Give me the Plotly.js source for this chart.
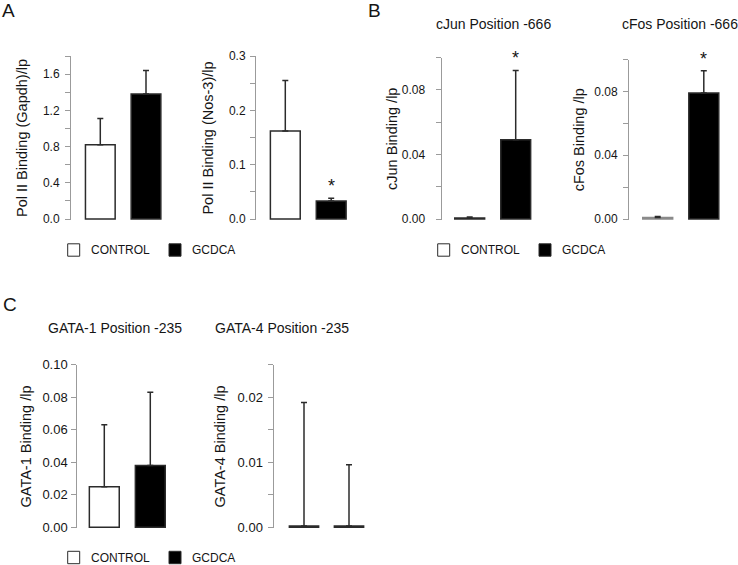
<!DOCTYPE html>
<html><head><meta charset="utf-8">
<script src="https://cdn.plot.ly/plotly-3.0.1.min.js"></script>
<style>html,body{margin:0;padding:0;background:#fff}#chart{width:738px;height:565px}</style>
</head><body><div id="chart"></div>
<script>
// ---- data ----
const categories = ['CONTROL', 'GCDCA'];

const gapdhMean = [0.82, 1.38];
const gapdhErr  = [0.29, 0.26];

const nos3Mean = [0.162, 0.033];
const nos3Err  = [0.093, 0.005];

const cJunMean = [0.0006, 0.049];
const cJunErr  = [0.0007, 0.043];

const cFosMean = [0.001, 0.079];
const cFosErr  = [0.0005, 0.014];

const gata1Mean = [0.025, 0.038];
const gata1Err  = [0.038, 0.045];

const gata4Mean = [0.0002, 0.0002];
const gata4Err  = [0.019, 0.0094];

const yTitles = [
  'Pol II Binding (Gapdh)/lp', 'Pol II Binding (Nos-3)/lp',
  'cJun Binding /lp', 'cFos Binding /lp',
  'GATA-1 Binding /lp', 'GATA-4 Binding /lp'
];
const panelTitles = ['', '', 'cJun Position -666', 'cFos Position -666', 'GATA-1 Position -235', 'GATA-4 Position -235'];
const significant = [[false, false], [false, true], [false, true], [false, true], [false, false], [false, false]];
const panelLetters = ['A', 'B', 'C'];

// ---- layout geometry (pixels) ----
const W = 738, H = 565;
const FONT = '"Liberation Sans", Arial, Helvetica, sans-serif';
const INK = '#151515', AXC = '#9b9b9b', EDGE = '#2b2b2b';

const series = [
  [gapdhMean, gapdhErr], [nos3Mean, nos3Err], [cJunMean, cJunErr],
  [cFosMean, cFosErr], [gata1Mean, gata1Err], [gata4Mean, gata4Err]
];
const geom = [
  {axisX: 71,    c0: 100.3, c1: 146,   y0: 219,   top: 56,    ymax: 1.8,   dtick: 0.4,  minor: 0.2,   fmt: '.1f', tso: 3, sto: 11, tf: 12},
  {axisX: 256,   c0: 285.3, c1: 331.2, y0: 219,   top: 56,    ymax: 0.3,   dtick: 0.1,  minor: 0.05,  fmt: '.1f', tso: 2, sto: 11, tf: 12},
  {axisX: 441.5, c0: 469.7, c1: 515.7, y0: 219,   top: 57.5,  ymax: 0.1,   dtick: 0.04, minor: 0.02,  fmt: '.2f', tso: 8, sto: 0,  tf: 12},
  {axisX: 629,   c0: 657.7, c1: 703.8, y0: 219,   top: 59.5,  ymax: 0.1,   dtick: 0.04, minor: 0.02,  fmt: '.2f', tso: 3, sto: 6,  tf: 12},
  {axisX: 77.3,  c0: 104.3, c1: 150.3, y0: 527.3, top: 364.7, ymax: 0.1,   dtick: 0.02, minor: null,  fmt: '.2f', tso: 1, sto: 7,  tf: 13},
  {axisX: 273.5, c0: 304,   c1: 349,   y0: 527.3, top: 364.7, ymax: 0.025, dtick: 0.01, minor: 0.005, fmt: '.2f', tso: 2, sto: 8,  tf: 13}
];
const titlePos = [null, null, [493, 24], [680, 24], [115, 328], [282, 328]];
const letterPos = [[0, 10.5], [366, 10.5], [1, 304]];
const legendRows = [[67.7, 250], [437.7, 250], [67.7, 557.5]];

const px = v => v / W, py = v => 1 - v / H;

const traces = [];
const layout = {
  width: W, height: H,
  margin: {l: 0, r: 0, t: 0, b: 0},
  paper_bgcolor: '#fff', plot_bgcolor: 'rgba(0,0,0,0)',
  font: {family: FONT, color: INK, size: 12},
  showlegend: false,
  annotations: [], shapes: []
};

series.forEach((s, i) => {
  const g = geom[i];
  const n = i + 1;
  const xa = 'x' + (n === 1 ? '' : n), ya = 'y' + (n === 1 ? '' : n);
  const xk = 'xaxis' + (n === 1 ? '' : n), yk = 'yaxis' + (n === 1 ? '' : n);
  const sp = g.c1 - g.c0;
  const rightPx = g.c1 + 0.5 * sp;
  const pxPer = (g.y0 - g.top) / g.ymax;
  const pad = 1 / pxPer;

  traces.push({
    type: 'bar', x: categories, y: s[0], xaxis: xa, yaxis: ya,
    width: 0.65,
    marker: {color: ['#ffffff', '#000000'],
             line: {color: i === 3 ? ['#8a8a8a', EDGE] : EDGE, width: 1.5}},
    error_y: {type: 'data', symmetric: false, array: s[1], arrayminus: [0, 0],
              color: EDGE, thickness: 1.5, width: 3},
    hoverinfo: 'x+y'
  });

  layout[xk] = {
    anchor: ya, domain: [px(g.axisX), px(rightPx)],
    type: 'category', categoryorder: 'array', categoryarray: categories,
    range: [-(g.c0 - g.axisX) / sp, 1.5],
    showline: false, showticklabels: false, ticks: '', showgrid: false, zeroline: false
  };
  const yax = {
    anchor: xa, domain: [py(g.y0 + 1), py(g.top)],
    range: [-pad, g.ymax],
    showline: true, linecolor: AXC, linewidth: 1,
    ticks: 'outside', ticklen: 5, tickwidth: 1, tickcolor: AXC,
    tick0: 0, dtick: g.dtick, tickformat: g.fmt,
    ticklabelstandoff: g.tso,
    tickfont: {family: FONT, size: g.tf, color: INK},
    showgrid: false, zeroline: false,
    title: {text: yTitles[i], font: {family: FONT, size: 14.5, color: INK}, standoff: g.sto}
  };
  if (g.minor) yax.minor = {dtick: g.minor, tick0: 0, ticks: 'outside', ticklen: 5, tickwidth: 1, tickcolor: AXC, showgrid: false};
  layout[yk] = yax;

  // significance asterisks
  significant[i].forEach((sig, j) => {
    if (!sig) return;
    layout.annotations.push({
      xref: xa, yref: ya, x: categories[j], y: s[0][j] + s[1][j],
      text: '*', showarrow: false, yanchor: 'middle', yshift: 12,
      font: {family: FONT, size: 18, color: INK}
    });
  });

  if (panelTitles[i]) {
    layout.annotations.push({
      xref: 'paper', yref: 'paper', x: px(titlePos[i][0]), y: py(titlePos[i][1]),
      xanchor: 'center', yanchor: 'middle', showarrow: false,
      text: panelTitles[i], font: {family: FONT, size: 14, color: INK}
    });
  }
});

// panel letters
panelLetters.forEach((L, k) => {
  layout.annotations.push({
    xref: 'paper', yref: 'paper', x: px(letterPos[k][0]), y: py(letterPos[k][1]),
    xanchor: 'left', yanchor: 'middle', showarrow: false,
    text: L, font: {family: FONT, size: 19, color: INK}
  });
});

// legends (one under each panel row)
const legendFill = ['#ffffff', '#000000'];
legendRows.forEach(([lx, ly]) => {
  categories.forEach((c, j) => {
    const bx = lx + j * 101.3;
    layout.shapes.push({
      type: 'rect', xref: 'paper', yref: 'paper',
      x0: px(bx), x1: px(bx + 12), y0: py(ly + 6.2), y1: py(ly - 6.2),
      fillcolor: legendFill[j], line: {color: EDGE, width: 1}
    });
    layout.annotations.push({
      xref: 'paper', yref: 'paper', x: px(bx + 21.3), y: py(ly),
      xanchor: 'left', yanchor: 'middle', showarrow: false,
      text: c, font: {family: FONT, size: 12, color: INK}
    });
  });
});

Plotly.newPlot('chart', traces, layout, {staticPlot: true, displayModeBar: false});
</script>
</body></html>
